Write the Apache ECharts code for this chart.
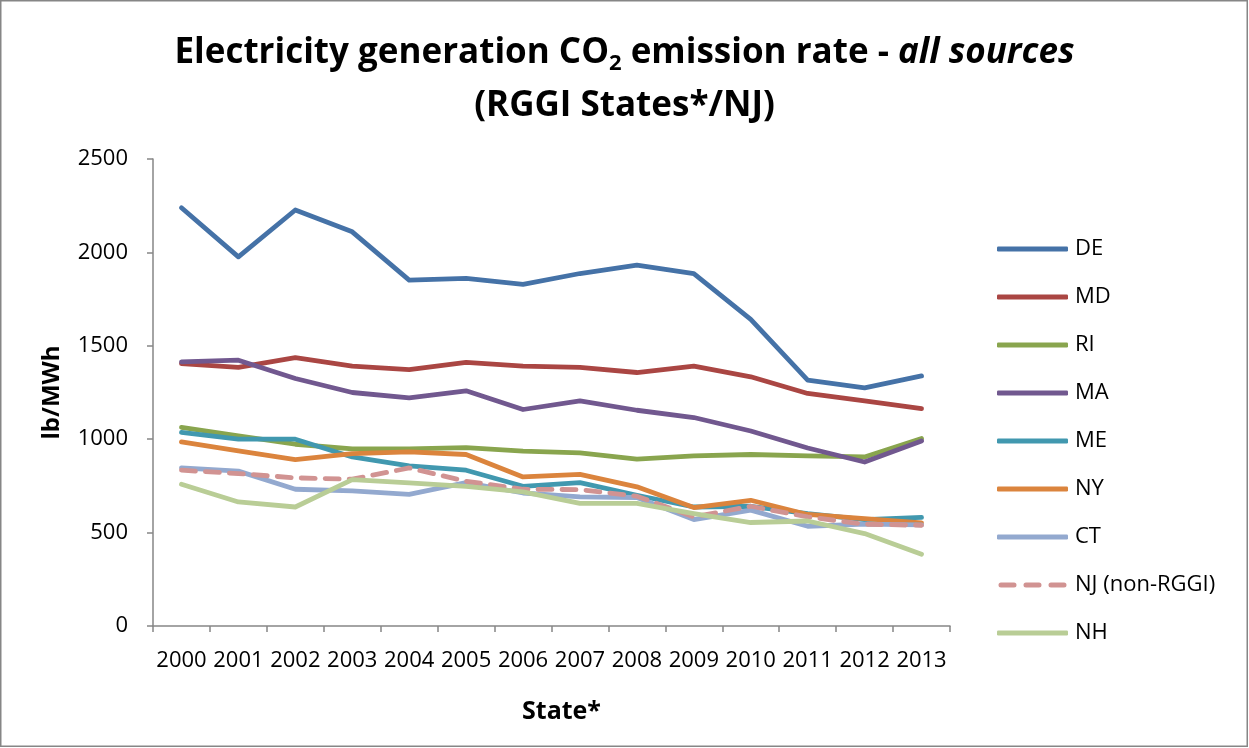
<!DOCTYPE html>
<html>
<head>
<meta charset="utf-8">
<script src="https://cdn.jsdelivr.net/npm/echarts@6/dist/echarts.min.js"></script>
<style>
  html, body { margin: 0; padding: 0; background: #fff; }
  #main { width: 1249px; height: 748px; }
</style>
</head>
<body>
<div id="main"></div>
<script>
var years = ['2000','2001','2002','2003','2004','2005','2006','2007','2008','2009','2010','2011','2012','2013'];

var DE = [2239,1976,2227,2110,1852,1861,1829,1887,1932,1887,1641,1316,1275,1339];
var MD = [1405,1384,1437,1391,1373,1411,1391,1384,1357,1391,1334,1245,1205,1164];
var RI = [1063,1018,973,948,948,955,936,927,893,911,918,911,905,1004];
var MA = [1414,1423,1325,1250,1221,1259,1159,1205,1155,1116,1044,953,878,991];
var ME = [1036,1000,1000,905,857,834,748,768,700,637,641,602,570,581];
var NY = [986,937,891,923,932,918,798,812,745,634,673,597,575,552];
var CT = [846,829,732,723,705,768,712,691,688,570,620,534,545,541];
var NJ = [834,816,793,786,846,775,732,730,695,584,641,584,545,539];
var NH = [759,664,637,784,766,748,718,656,656,602,554,562,495,384];

var myChart = echarts.init(document.getElementById('main'));

var fontName = 'Open Sans';

function line(name, data, color, dashed) {
    return {
        name: name,
        type: 'line',
        data: data,
        symbol: 'none',
        smooth: false,
        lineStyle: {
            color: color,
            width: 4.8,
            cap: 'round',
            join: 'round',
            type: dashed ? [14, 10] : 'solid'
        },
        itemStyle: { color: color }
    };
}

var dashIcon = 'path://M2.5,0L15.5,0A2.5,2.5,0,0,1,15.5,5L2.5,5A2.5,2.5,0,0,1,2.5,0Z' +
    'M27.5,0L40.5,0A2.5,2.5,0,0,1,40.5,5L27.5,5A2.5,2.5,0,0,1,27.5,0Z' +
    'M52.5,0L65.5,0A2.5,2.5,0,0,1,65.5,5L52.5,5A2.5,2.5,0,0,1,52.5,0Z';

var legendNames = ['DE','MD','RI','MA','ME','NY','CT','NJ (non-RGGI)','NH'];

var option = {
    backgroundColor: '#fff',
    animation: false,
    graphic: [{
        type: 'rect',
        shape: { x: 0.75, y: 0.75, width: 1246.5, height: 745.5 },
        style: { fill: 'none', stroke: '#868686', lineWidth: 1.5 },
        silent: true
    }],
    title: {
        left: 'center',
        top: 22,
        text: '{b|Electricity generation CO}{sub|2}{b| emission rate - }{i|all sources}\n{b|(RGGI States*/NJ)}',
        textStyle: {
            rich: {
                b: { fontFamily: fontName, fontWeight: 'bold', fontSize: 35, lineHeight: 53, color: '#000' },
                i: { fontFamily: fontName, fontWeight: 'bold', fontStyle: 'italic', fontSize: 35, lineHeight: 53, color: '#000' },
                sub: { fontFamily: fontName, fontWeight: 'bold', fontSize: 22, lineHeight: 53, color: '#000', padding: [20, 0, 0, 0] }
            }
        }
    },
    legend: {
        orient: 'vertical',
        left: 992,
        top: 232,
        itemWidth: 71,
        itemHeight: 5,
        itemGap: 24,
        textStyle: { fontFamily: fontName, fontSize: 22, lineHeight: 24, color: '#000', padding: [0, 0, 0, 2] },
        data: legendNames.map(function (n) {
            return { name: n, icon: n === 'NJ (non-RGGI)' ? dashIcon : 'roundRect' };
        })
    },
    grid: {
        left: 153,
        right: 299,
        top: 159,
        bottom: 122
    },
    xAxis: {
        type: 'category',
        data: years,
        boundaryGap: true,
        name: 'State*',
        nameLocation: 'middle',
        nameGap: 73,
        nameTextStyle: { fontFamily: fontName, fontWeight: 'bold', fontSize: 25, lineHeight: 25, color: '#000', padding: [0, 0, 0, 20] },
        axisLine: { lineStyle: { color: '#868686', width: 1.5 } },
        axisTick: { show: true, length: 6, lineStyle: { color: '#868686', width: 1.5 } },
        axisLabel: { fontFamily: fontName, fontSize: 22, lineHeight: 22, color: '#000', margin: 24, interval: 0 },
        splitLine: { show: false }
    },
    yAxis: {
        type: 'value',
        min: 0,
        max: 2500,
        interval: 500,
        name: 'lb/MWh',
        nameLocation: 'middle',
        nameGap: 89,
        nameTextStyle: { fontFamily: fontName, fontWeight: 'bold', fontSize: 24, color: '#000' },
        axisLine: { show: true, lineStyle: { color: '#868686', width: 1.5 } },
        axisTick: { show: true, length: 6, lineStyle: { color: '#868686', width: 1.5 } },
        axisLabel: {
            fontFamily: fontName, fontSize: 22, color: '#000', margin: 25,
            formatter: function (v) { return String(v); }
        },
        splitLine: { show: false }
    },
    series: [
        line('DE', DE, '#4572A7'),
        line('MD', MD, '#AA4643'),
        line('RI', RI, '#89A54E'),
        line('MA', MA, '#71588F'),
        line('ME', ME, '#4198AF'),
        line('NY', NY, '#DB843D'),
        line('CT', CT, '#93A9CF'),
        line('NJ (non-RGGI)', NJ, '#D19392', true),
        line('NH', NH, '#B9CD96')
    ]
};
myChart.setOption(option);
</script>
</body>
</html>
